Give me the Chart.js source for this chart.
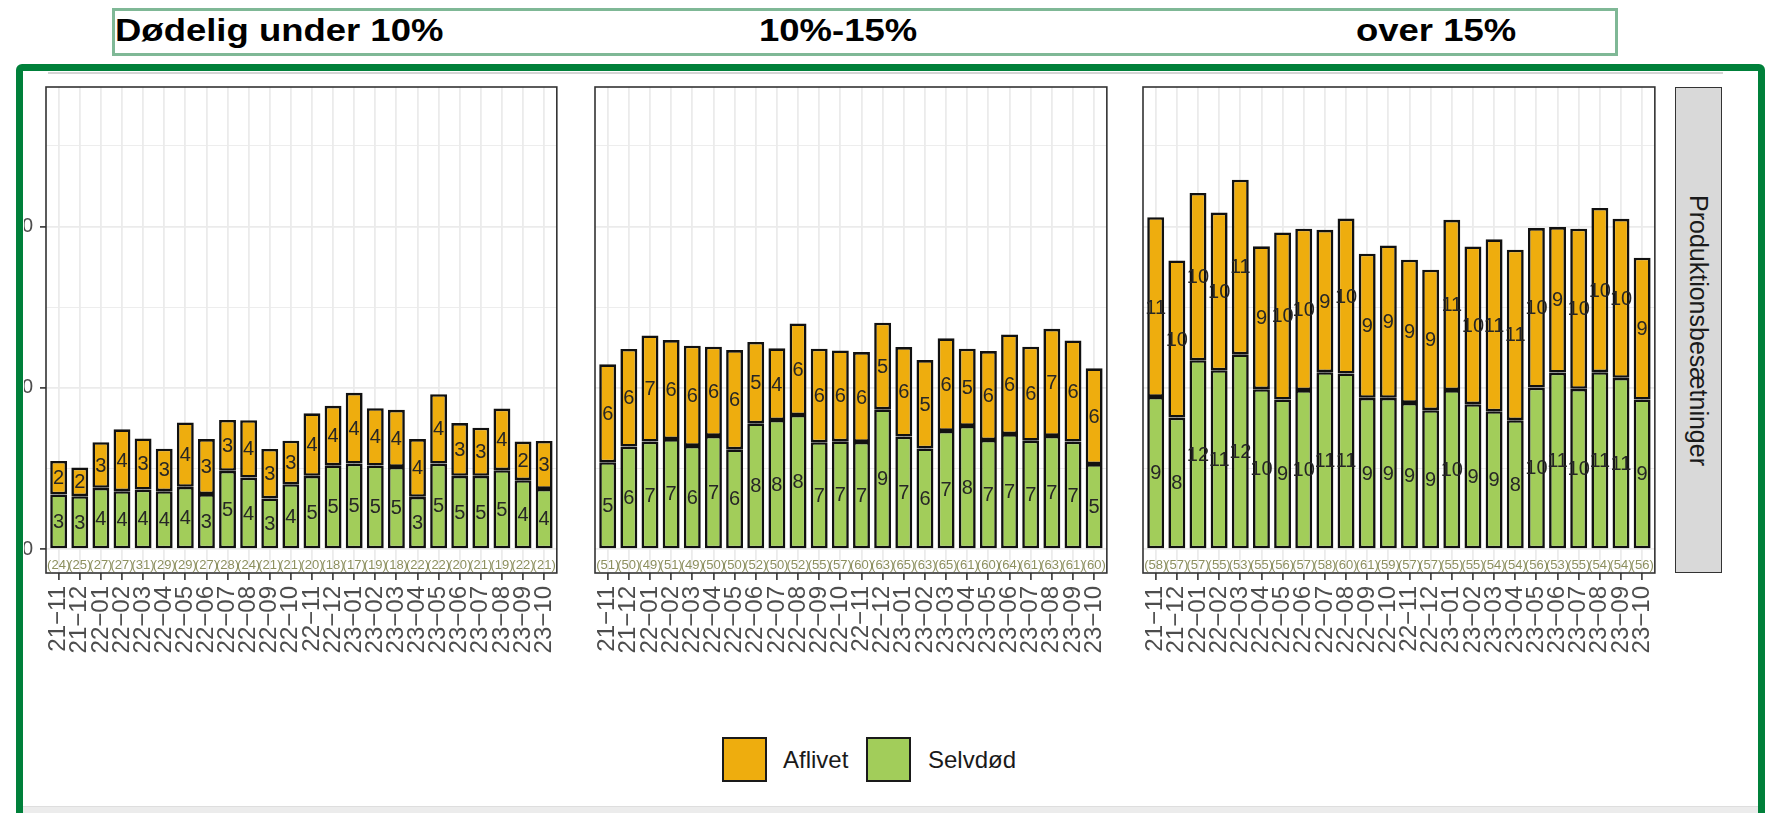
<!DOCTYPE html>
<html>
<head>
<meta charset="utf-8">
<script src="https://cdn.jsdelivr.net/npm/chart.js@4.4.1/dist/chart.umd.min.js"></script>
<style>
  html, body { margin:0; padding:0; background:#fff; }
  body { width:1772px; height:813px; position:relative; overflow:hidden; font-family:"Liberation Sans", Arial, sans-serif; }
  .abs { position:absolute; }
  #titlebox { left:112px; top:8px; width:1500px; height:42px; border:3px solid #7fb896; }
  .ttl { position:absolute; top:10px; font-weight:bold; font-size:32px; line-height:40px; color:#000; white-space:nowrap; transform-origin:left center; }
  #frame { left:16px; top:64px; width:1735px; height:800px; border:7px solid #00803a; border-radius:6px; }
  #topline { left:48px; top:72px; width:1675px; height:2px; background:#d4d4d4; }
  #botband { left:23px; top:806px; width:1735px; height:7px; background:#ececec; border-top:1px solid #dedede; }
  canvas { position:absolute; }
  #strip { left:1675px; top:87px; width:45px; height:484px; background:#d9d9d9; border:1.5px solid #333; writing-mode:vertical-rl; text-align:center; font-size:25px; line-height:45px; color:#1a1a1a; }
  .key { position:absolute; top:737px; width:41px; height:41px; border:2px solid #1a1a1a; }
  .ktxt { position:absolute; top:745px; font-size:24px; line-height:30px; color:#1a1a1a; }
</style>
</head>
<body>
<div id="titlebox" class="abs"></div>
<div class="ttl" style="left:115px; transform:scaleX(1.14)">Dødelig under 10%</div>
<div class="ttl" style="left:759px; transform:scaleX(1.14)">10%-15%</div>
<div class="ttl" style="left:1356px; transform:scaleX(1.14)">over 15%</div>

<canvas id="c1" width="555" height="595" style="left:24px; top:68px;"></canvas>
<canvas id="c2" width="536" height="583" style="left:593px; top:80px;"></canvas>
<canvas id="c3" width="536" height="583" style="left:1141px; top:80px;"></canvas>
<div id="strip" class="abs">Produktionsbesætninger</div>

<div class="key" style="left:722px; background:#EEAD0E;"></div>
<div class="ktxt" style="left:783px;">Aflivet</div>
<div class="key" style="left:866px; background:#A2CD5A;"></div>
<div class="ktxt" style="left:928px;">Selvdød</div>

<div id="topline" class="abs"></div>
<div id="botband" class="abs"></div>
<div id="frame" class="abs"></div>

<script>
// ---------- data ----------
const months = ['21−11','21−12','22−01','22−02','22−03','22−04','22−05','22−06','22−07','22−08','22−09','22−10',
                '22−11','22−12','23−01','23−02','23−03','23−04','23−05','23−06','23−07','23−08','23−09','23−10'];
const yTicks = [0, 10, 20];
const yMinorTicks = [5, 15, 25];

// Dødelig under 10%
const selvdod1 = [3.40,3.29,3.81,3.60,3.70,3.60,3.87,3.42,4.86,4.44,3.15,4.03,4.55,5.20,5.31,5.19,5.10,3.25,5.31,4.55,4.55,4.90,4.28,3.74];
const aflivet1 = [2.07,1.77,2.82,3.83,3.17,2.63,3.99,3.41,3.15,3.56,3.07,2.70,3.87,3.69,4.38,3.55,3.54,3.58,4.30,3.27,2.98,3.82,2.39,2.97];
const antal1   = [24,25,27,27,31,29,29,27,28,24,21,21,20,18,17,19,18,22,22,20,21,19,22,21];

// 10%-15%
const selvdod2 = [5.39,6.36,6.67,6.83,6.40,7.02,6.19,7.80,8.01,8.32,6.63,6.69,6.65,8.67,6.98,6.25,7.33,7.64,6.77,7.14,6.73,7.02,6.67,5.28];
const aflivet2 = [6.07,6.05,6.58,6.13,6.21,5.53,6.15,5.04,4.44,5.67,5.80,5.63,5.57,5.37,5.55,5.47,5.74,4.79,5.51,6.17,5.82,6.64,6.27,5.93];
const antal2   = [51,50,49,51,49,50,50,52,50,52,55,57,60,63,65,63,65,61,60,64,61,63,61,60];

// over 15%
const selvdod3 = [9.44,8.16,11.71,11.09,12.08,9.92,9.28,9.86,10.97,10.89,9.38,9.38,9.07,8.62,9.86,8.99,8.55,8.00,10.02,10.95,9.94,10.97,10.62,9.28];
const aflivet3 = [11.13,9.73,10.37,9.77,10.82,8.85,10.35,10.00,8.82,9.60,8.93,9.44,8.87,8.70,10.55,9.77,10.65,10.56,9.88,9.01,9.92,10.18,9.85,8.78];
const antal3   = [58,57,57,55,53,55,56,57,58,60,61,59,57,57,55,55,54,54,56,53,55,54,54,56];

const seriesNames = ['Selvdød', 'Aflivet'];
const countPos = -0.97;

// ---------- styles ----------
const FONT = '"Liberation Sans", Arial, sans-serif';
Chart.defaults.font.family = FONT;
const GREEN = '#A2CD5A', ORANGE = '#EEAD0E';

const panelPlugin = {
  id: 'panel',
  afterDatasetsDraw(chart, args, opts) {
    const ctx = chart.ctx, a = chart.chartArea;
    ctx.save();
    ctx.font = '20px ' + FONT;
    ctx.fillStyle = '#262626';
    ctx.textAlign = 'center';
    ctx.textBaseline = 'middle';
    chart.data.datasets.forEach((ds, di) => {
      const meta = chart.getDatasetMeta(di);
      meta.data.forEach((bar, i) => {
        const v = ds.data[i].y;
        ctx.fillText(String(Math.round(v)), bar.x, (bar.y + bar.base) / 2 + 1);
      });
    });
    const yc = chart.scales.y.getPixelForValue(countPos);
    ctx.font = '13px ' + FONT;
    ctx.fillStyle = '#8c8f5e';
    const meta0 = chart.getDatasetMeta(0);
    opts.counts.forEach((c, i) => {
      ctx.fillText('(' + c + ')', meta0.data[i].x, yc);
    });
    ctx.strokeStyle = '#333';
    ctx.lineWidth = 1.6;
    ctx.strokeRect(a.left, a.top, a.right - a.left, a.bottom - a.top);
    ctx.restore();
  }
};

function makeChart(id, selv, afl, counts, showY) {
  const ds = (name, vals, color) => ({
    label: name,
    data: vals.map((v, i) => ({ x: i + 1, y: v })),
    backgroundColor: color,
    borderColor: '#111111',
    borderWidth: 2.6,
    borderSkipped: false,
    barPercentage: 0.8,
    categoryPercentage: 1.0
  });
  return new Chart(document.getElementById(id), {
    type: 'bar',
    data: { datasets: [ ds(seriesNames[0], selv, GREEN), ds(seriesNames[1], afl, ORANGE) ] },
    options: {
      responsive: false,
      animation: false,
      maintainAspectRatio: false,
      layout: { padding: { top: 7, right: 2, left: showY ? 0 : 2, bottom: 0 } },
      plugins: { legend: { display: false }, tooltip: { enabled: false }, panel: { counts: counts } },
      scales: {
        x: {
          type: 'linear', min: 0.4, max: 24.6, offset: false, stacked: true,
          afterBuildTicks: s => { s.ticks = months.map((m, i) => ({ value: i + 1 })); },
          afterFit: s => { s.height = 90; },
          ticks: {
            autoSkip: false, minRotation: 90, maxRotation: 90, padding: 6,
            callback: v => months[Math.round(v) - 1],
            font: { size: 24, family: FONT }, color: '#4d4d4d'
          },
          grid: { offset: false, color: '#ebebeb', lineWidth: 1.8, tickColor: '#333', tickLength: 7, tickWidth: 1.6 },
          border: { display: false }
        },
        y: {
          stacked: true, min: -1.47, max: 28.64,
          afterBuildTicks: s => {
            s.ticks = yTicks.concat(yMinorTicks).sort((a, b) => a - b).map(v => ({ value: v }));
          },
          afterFit: s => { s.width = showY ? 22 : 0; },
          ticks: {
            display: showY, padding: 7,
            callback: v => (yTicks.includes(v) ? String(v) : ''),
            font: { size: 20, family: FONT }, color: '#4d4d4d'
          },
          grid: {
            color: '#ebebeb',
            lineWidth: c => (c.tick && yTicks.includes(c.tick.value) ? 1.8 : 0.9),
            drawTicks: showY,
            tickLength: 6, tickWidth: 1.6,
            tickColor: c => (c.tick && yTicks.includes(c.tick.value) ? '#333' : 'rgba(0,0,0,0)')
          },
          border: { display: false }
        }
      }
    },
    plugins: [panelPlugin]
  });
}

makeChart('c1', selvdod1, aflivet1, antal1, true);
makeChart('c2', selvdod2, aflivet2, antal2, false);
makeChart('c3', selvdod3, aflivet3, antal3, false);
</script>
</body>
</html>
